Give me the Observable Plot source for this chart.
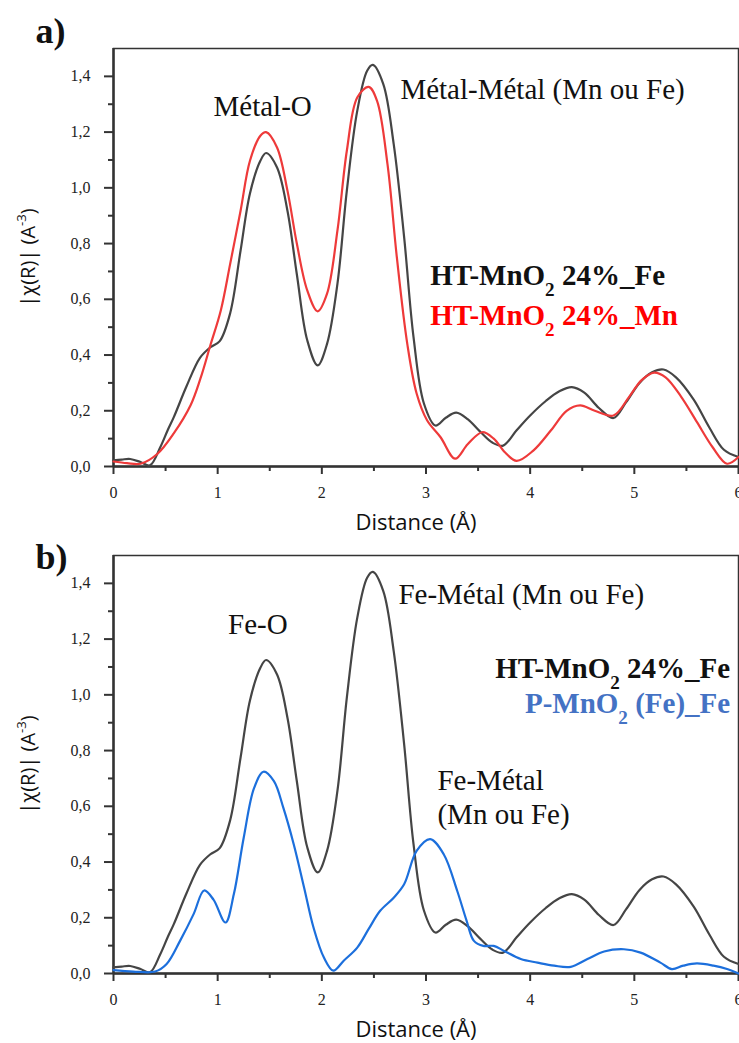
<!DOCTYPE html>
<html>
<head>
<meta charset="utf-8">
<script src="https://cdn.jsdelivr.net/npm/d3@7"></script>
<script src="https://cdn.jsdelivr.net/npm/@observablehq/plot@0.6"></script>
<style>
  html, body { margin: 0; padding: 0; background: #fff; }
  #chart svg { display: block; }
</style>
</head>
<body>
<div id="chart"></div>
<script>
// ---- Data (distance Å, |χ(R)|) ----
const htFe = [[0,0.022],[0.08,0.025],[0.16,0.027],[0.26,0.016],[0.35,0.004],[0.45,0.07],[0.52,0.13],[0.58,0.178],[0.70,0.287],[0.83,0.39],[0.93,0.428],[1.02,0.45],[1.12,0.55],[1.22,0.775],[1.31,0.98],[1.41,1.097],[1.465,1.125],[1.57,1.073],[1.67,0.918],[1.76,0.69],[1.86,0.453],[1.96,0.363],[2.05,0.44],[2.15,0.656],[2.24,0.99],[2.34,1.276],[2.435,1.42],[2.49,1.441],[2.59,1.372],[2.69,1.157],[2.79,0.823],[2.88,0.465],[2.98,0.226],[3.09,0.147],[3.19,0.175],[3.29,0.193],[3.40,0.17],[3.52,0.125],[3.64,0.085],[3.74,0.075],[3.87,0.13],[4.00,0.183],[4.15,0.235],[4.28,0.27],[4.40,0.285],[4.52,0.265],[4.66,0.21],[4.80,0.174],[4.92,0.23],[5.05,0.3],[5.17,0.338],[5.28,0.348],[5.40,0.32],[5.57,0.24],[5.72,0.14],[5.86,0.06],[6.00,0.034]];
const htMn = [[0,0.018],[0.13,0.012],[0.26,0.01],[0.42,0.045],[0.58,0.12],[0.74,0.22],[0.835,0.316],[0.93,0.435],[1.03,0.56],[1.12,0.727],[1.22,0.918],[1.31,1.097],[1.41,1.187],[1.465,1.2],[1.57,1.145],[1.67,0.99],[1.76,0.80],[1.86,0.632],[1.96,0.557],[2.05,0.62],[2.15,0.847],[2.24,1.133],[2.34,1.324],[2.45,1.362],[2.53,1.312],[2.63,1.086],[2.72,0.751],[2.82,0.441],[2.91,0.262],[3.01,0.166],[3.14,0.105],[3.28,0.028],[3.40,0.08],[3.54,0.123],[3.65,0.1],[3.76,0.05],[3.87,0.02],[4.03,0.057],[4.20,0.13],[4.35,0.2],[4.48,0.219],[4.62,0.2],[4.80,0.183],[4.95,0.25],[5.07,0.31],[5.19,0.337],[5.30,0.32],[5.45,0.25],[5.60,0.16],[5.75,0.07],[5.89,0.01],[6.00,0.034]];
const pFe = [[0,0.012],[0.19,0.007],[0.40,0.007],[0.51,0.034],[0.64,0.118],[0.77,0.214],[0.87,0.298],[0.96,0.265],[1.075,0.183],[1.155,0.284],[1.25,0.487],[1.35,0.666],[1.44,0.724],[1.54,0.69],[1.63,0.595],[1.73,0.464],[1.83,0.308],[1.92,0.165],[2.02,0.057],[2.11,0.01],[2.21,0.046],[2.34,0.093],[2.45,0.16],[2.56,0.225],[2.69,0.272],[2.79,0.32],[2.91,0.44],[3.04,0.482],[3.17,0.428],[3.30,0.296],[3.39,0.189],[3.46,0.117],[3.55,0.099],[3.65,0.099],[3.75,0.081],[3.91,0.052],[4.07,0.039],[4.23,0.028],[4.39,0.024],[4.55,0.052],[4.71,0.079],[4.90,0.087],[5.06,0.075],[5.25,0.039],[5.36,0.016],[5.47,0.028],[5.60,0.036],[5.76,0.028],[5.89,0.016],[6.00,0.0]];

const xTicks = [0, 1, 2, 3, 4, 5, 6];
const xMinorTicks = [0.5, 1.5, 2.5, 3.5, 4.5, 5.5];
const yTicks = [0, 0.2, 0.4, 0.6, 0.8, 1.0, 1.2, 1.4];
const yMinorTicks = [0.1, 0.3, 0.5, 0.7, 0.9, 1.1, 1.3];

const xLabel = "Distance (Å)";
const yLabel = "|χ(R)| (A^{-3})";

// annotations (text) per panel
const notesA = [
  {x: 0.96, y: 1.258, text: "Métal-O"},
  {x: 2.754, y: 1.32, text: "Métal-Métal (Mn ou Fe)"}
];
const legendA = [
  {x: 3.04, y: 0.65, text: "HT-MnO_{2} 24%_Fe", color: "#111111"},
  {x: 3.04, y: 0.507, text: "HT-MnO_{2} 24%_Mn", color: "#ff0000"}
];
const notesB = [
  {x: 1.10, y: 1.218, text: "Fe-O"},
  {x: 2.735, y: 1.325, text: "Fe-Métal (Mn ou Fe)"},
  {x: 3.11, y: 0.66, text: "Fe-Métal"},
  {x: 3.11, y: 0.536, text: "(Mn ou Fe)"}
];
const legendB = [
  {x: 5.92, y: 1.06, text: "HT-MnO_{2} 24%_Fe", color: "#111111"},
  {x: 5.92, y: 0.935, text: "P-MnO_{2} (Fe)_Fe", color: "#4472c4"}
];

const toObj = arr => arr.map(([d, v]) => ({d, v}));
const fmt = d => d.toFixed(1).replace(".", ",");
const AXIS = "#333333";

function panel({height, marginTop, marginBottom, series, notes, legend, legendAnchor, tag, tagDy}) {
  return Plot.plot({
    width: 739,
    height,
    marginLeft: 113,
    marginRight: 1,
    marginTop,
    marginBottom,
    style: {fontFamily: "'Liberation Serif', 'Times New Roman', serif", background: "#fff", overflow: "visible"},
    x: {domain: [0, 6]},
    y: {domain: [0, 1.5]},
    color: {type: "identity"},
    marks: [
      Plot.frame({stroke: AXIS, strokeWidth: 1.5}),
      Plot.ruleX([0], {stroke: AXIS, strokeWidth: 2.5}),
      Plot.ruleY([0], {stroke: AXIS, strokeWidth: 2.5}),
      Plot.axisX(xTicks, {tickSize: 8, tickPadding: 12, strokeWidth: 2, stroke: AXIS, fontSize: 16, fill: "#222", label: null}),
      Plot.axisX(xMinorTicks, {tickSize: 5, strokeWidth: 2, stroke: AXIS, fill: "none", label: null}),
      Plot.axisY(yTicks, {tickSize: 9, tickPadding: 14, strokeWidth: 2, stroke: AXIS, fontSize: 16, fill: "#222", tickFormat: fmt, label: null}),
      Plot.axisY(yMinorTicks, {tickSize: 5, strokeWidth: 2, stroke: AXIS, fill: "none", label: null}),
      ...series.map(s => Plot.line(toObj(s.data), {x: "d", y: "v", curve: "catmull-rom", stroke: s.color, strokeWidth: 2.2})),
      Plot.text(notes, {x: "x", y: "y", text: "text", textAnchor: "start", lineAnchor: "bottom", fontSize: 29, fill: "#111"}),
      Plot.text(legend, {x: "x", y: "y", text: "text", textAnchor: legendAnchor, lineAnchor: "bottom", fontSize: 29, fontWeight: "bold", fill: "color"}),
      Plot.text([tag], {frameAnchor: "top-left", dx: -78, dy: tagDy, textAnchor: "start", lineAnchor: "bottom", fontSize: 36, fontWeight: "bold", fill: "#111"}),
      Plot.text([xLabel], {frameAnchor: "bottom", dx: -10, dy: 63, lineAnchor: "bottom", fontSize: 22, fontFamily: "'Open Sans', sans-serif", fill: "#111"}),
      Plot.text([yLabel], {frameAnchor: "left", dx: -79, rotate: -90, textAnchor: "middle", lineAnchor: "bottom", fontSize: 20, fontFamily: "'Open Sans', sans-serif", fill: "#111"})
    ]
  });
}

// turn _{..} and ^{..} markup into sub/superscript tspans
function richify(svg) {
  svg.querySelectorAll("text").forEach(t => {
    const s = t.textContent;
    if (!/[_^]\{/.test(s) || t.querySelector("tspan")) return;
    const parts = s.split(/([_^]\{[^}]*\})/);
    while (t.firstChild) t.removeChild(t.firstChild);
    for (const p of parts) {
      if (!p) continue;
      const ts = document.createElementNS("http://www.w3.org/2000/svg", "tspan");
      const m = p.match(/^([_^])\{([^}]*)\}$/);
      if (m) {
        ts.textContent = m[2];
        ts.setAttribute("font-size", "66%");
        ts.setAttribute("baseline-shift", m[1] === "_" ? "sub" : "super");
      } else {
        ts.textContent = p;
      }
      t.appendChild(ts);
    }
  });
  return svg;
}

const chart = document.getElementById("chart");
chart.appendChild(richify(panel({
  height: 540, marginTop: 48, marginBottom: 74,
  series: [{data: htFe, color: "#454545"}, {data: htMn, color: "#ee3a3a"}],
  notes: notesA, legend: legendA, legendAnchor: "start", tag: "a)", tagDy: -6
})));
chart.appendChild(richify(panel({
  height: 503, marginTop: 15, marginBottom: 70,
  series: [{data: htFe, color: "#454545"}, {data: pFe, color: "#1c6fdc"}],
  notes: notesB, legend: legendB, legendAnchor: "end", tag: "b)", tagDy: 13
})));
</script>
</body>
</html>
